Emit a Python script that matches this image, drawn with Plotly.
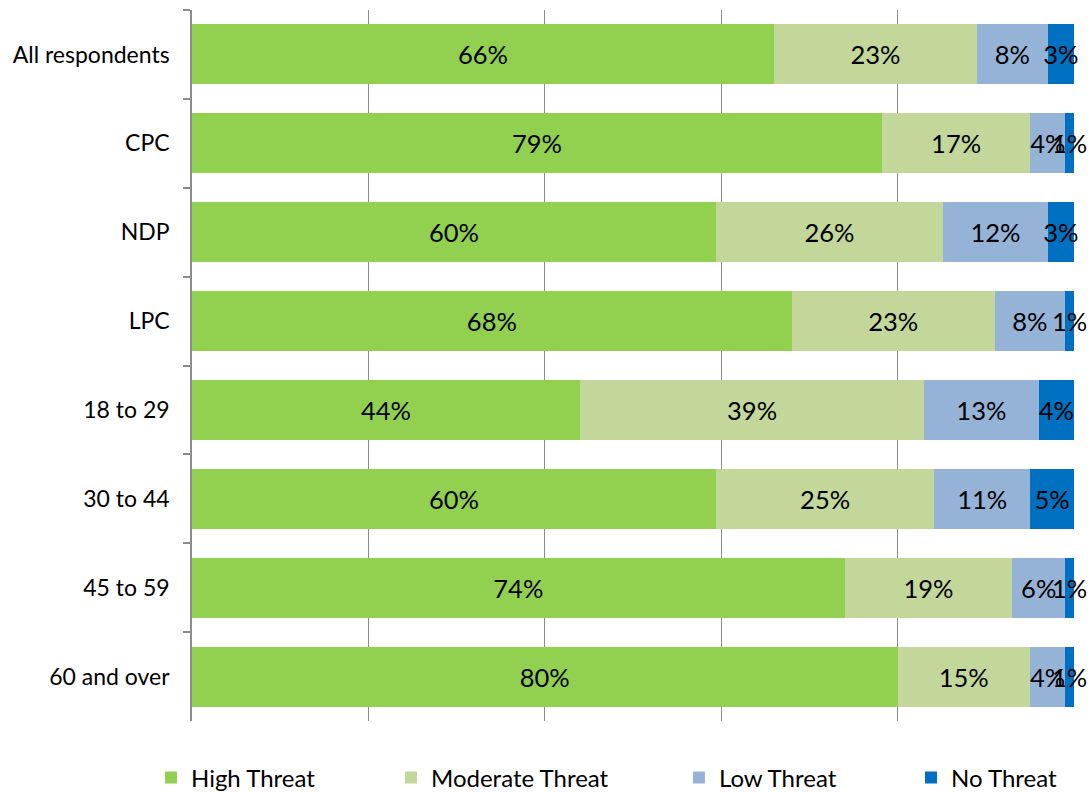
import plotly.graph_objects as go

categories = ["All respondents", "CPC", "NDP", "LPC", "18 to 29", "30 to 44", "45 to 59", "60 and over"]
high_threat = [66, 79, 60, 68, 44, 60, 74, 80]
moderate_threat = [23, 17, 26, 23, 39, 25, 19, 15]
low_threat = [8, 4, 12, 8, 13, 11, 6, 4]
no_threat = [3, 1, 3, 1, 4, 5, 1, 1]

series = [
    ("High Threat", high_threat, "#92D050", "legend", -0.0465),
    ("Moderate Threat", moderate_threat, "#C4D79B", "legend2", 0.2256),
    ("Low Threat", low_threat, "#95B3D7", "legend3", 0.5521),
    ("No Threat", no_threat, "#0070C0", "legend4", 0.8152),
]

FONT = "Lato, 'Open Sans', sans-serif"

fig = go.Figure()
for name, vals, color, leg, _ in series:
    fig.add_trace(go.Bar(
        y=categories, x=vals, name=name, orientation="h",
        marker=dict(color=color, line=dict(width=0)),
        text=[f"{v}%" for v in vals],
        textposition="inside", insidetextanchor="middle",
        constraintext="none", textangle=0, cliponaxis=False,
        textfont=dict(family=FONT, size=25.5, color="#000000"),
        legend=leg, hoverinfo="skip",
    ))

layout_legends = {}
for name, vals, color, leg, xpos in series:
    layout_legends[leg] = dict(
        x=xpos, xanchor="left", y=-0.08, yanchor="middle",
        orientation="h", bgcolor="rgba(0,0,0,0)",
        font=dict(family=FONT, size=24, color="#000000"),
        itemwidth=30,
    )

fig.update_layout(
    width=1091, height=792,
    margin=dict(l=192, r=17, t=10, b=71, autoexpand=False),
    paper_bgcolor="white", plot_bgcolor="white",
    barmode="stack", barnorm="percent", bargap=0.325,
    showlegend=True,
    font=dict(family=FONT, size=23, color="#000000"),
    xaxis=dict(range=[0, 100], showticklabels=False, showgrid=True,
               gridcolor="#8c8c8c", gridwidth=1, dtick=20, tick0=0,
               zeroline=False, showline=False, fixedrange=True),
    yaxis=dict(autorange="reversed", showline=True, linecolor="#8c8c8c", linewidth=1.5,
               ticks="outside", ticklen=7, tickcolor="#8c8c8c", tickwidth=1.5,
               tickson="boundaries", ticklabelstandoff=16,
               tickfont=dict(family=FONT, size=23, color="#000000"),
               showgrid=False, zeroline=False),
    **layout_legends,
)

fig.write_html("out.html")
